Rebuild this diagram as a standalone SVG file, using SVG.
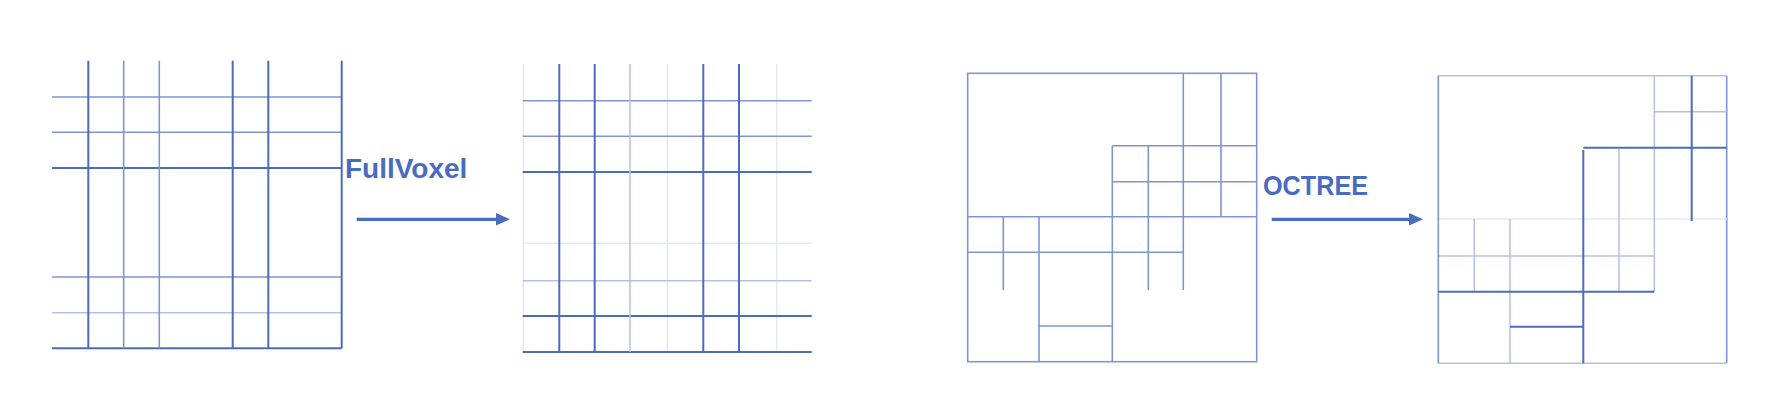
<svg xmlns="http://www.w3.org/2000/svg" width="1778" height="410" viewBox="0 0 1778 410">
<defs>
<style>
.d{stroke:#4c6bbd;stroke-width:2;fill:none}
.m{stroke:#7f95d2;stroke-width:1.6;fill:none}
.l{stroke:#b4c1e5;stroke-width:1.5;fill:none}
.f{stroke:#e4e9f5;stroke-width:1.5;fill:none}
.lbl{font-family:"Liberation Sans",Arial,sans-serif;font-weight:bold;font-size:28px;fill:#4a6cc0}
.arr{stroke:#4a6cc0;stroke-width:3.3;fill:none}
.head{fill:#4a6cc0}
</style>
</defs>
<rect width="1778" height="410" fill="#ffffff"/>

<g id="fullvoxel-before">
<line class="m" x1="52" y1="97" x2="341.7" y2="97"/>
<line class="m" x1="52" y1="132.3" x2="341.7" y2="132.3"/>
<line class="d" x1="52" y1="168" x2="341.7" y2="168"/>
<line class="m" x1="52" y1="277" x2="341.7" y2="277"/>
<line class="l" x1="52" y1="312.7" x2="341.7" y2="312.7"/>
<line class="d" x1="52" y1="348.3" x2="341.7" y2="348.3"/>
<line class="d" x1="88.3" y1="60.7" x2="88.3" y2="348.3"/>
<line class="m" x1="123.7" y1="60.7" x2="123.7" y2="348.3"/>
<line class="m" x1="159.3" y1="60.7" x2="159.3" y2="348.3"/>
<line class="d" x1="232.7" y1="60.7" x2="232.7" y2="348.3"/>
<line class="d" x1="268.3" y1="60.7" x2="268.3" y2="348.3"/>
<line class="d" x1="341.7" y1="60.7" x2="341.7" y2="348.3"/>
</g>

<g id="fullvoxel-after">
<line class="f" x1="523.3" y1="64" x2="523.3" y2="352"/>
<line class="f" x1="667.3" y1="64" x2="667.3" y2="352"/>
<line class="f" x1="776.7" y1="64" x2="776.7" y2="352"/>
<line class="f" x1="522.7" y1="243.3" x2="811.7" y2="243.3"/>
<line class="m" x1="522.7" y1="100.7" x2="811.7" y2="100.7"/>
<line class="m" x1="522.7" y1="136.3" x2="811.7" y2="136.3"/>
<line class="d" x1="522.7" y1="172" x2="811.7" y2="172"/>
<line class="l" x1="522.7" y1="280.7" x2="811.7" y2="280.7"/>
<line class="d" x1="522.7" y1="316" x2="811.7" y2="316"/>
<line class="d" x1="522.7" y1="352" x2="811.7" y2="352"/>
<line class="d" x1="559.3" y1="64" x2="559.3" y2="352"/>
<line class="d" x1="594.7" y1="64" x2="594.7" y2="352"/>
<line class="l" x1="630" y1="64" x2="630" y2="352"/>
<line class="d" x1="703.3" y1="64" x2="703.3" y2="352"/>
<line class="d" x1="739" y1="64" x2="739" y2="352"/>
</g>

<g id="octree-before">
<rect class="m" x="967.7" y="73.3" width="289" height="288.4"/>
<line class="m" x1="1183.3" y1="73.3" x2="1183.3" y2="290"/>
<line class="m" x1="1221" y1="73.3" x2="1221" y2="216.7"/>
<line class="m" x1="1112.3" y1="145.7" x2="1256.7" y2="145.7"/>
<line class="m" x1="1112.3" y1="181.7" x2="1256.7" y2="181.7"/>
<line class="m" x1="967.7" y1="216.7" x2="1256.7" y2="216.7"/>
<line class="m" x1="1112.3" y1="145.7" x2="1112.3" y2="361.7"/>
<line class="m" x1="1148.3" y1="145.7" x2="1148.3" y2="290"/>
<line class="m" x1="967.7" y1="252.3" x2="1183.3" y2="252.3"/>
<line class="m" x1="1003.3" y1="216.7" x2="1003.3" y2="290"/>
<line class="m" x1="1039" y1="216.7" x2="1039" y2="361.7"/>
<line class="m" x1="1039" y1="326" x2="1112.3" y2="326"/>
</g>

<g id="octree-after">
<line class="l" x1="1438.3" y1="75.7" x2="1726.7" y2="75.7"/>
<line class="l" x1="1438.3" y1="363.3" x2="1726.7" y2="363.3"/>
<line class="m" x1="1726.7" y1="75.7" x2="1726.7" y2="363.3"/>
<line class="f" x1="1438.3" y1="219" x2="1726.7" y2="219"/>
<line class="l" x1="1654.3" y1="111.7" x2="1726.7" y2="111.7"/>
<line class="l" x1="1654.3" y1="75.7" x2="1654.3" y2="291.7"/>
<line class="l" x1="1438.3" y1="256" x2="1654.3" y2="256"/>
<line class="l" x1="1619" y1="149" x2="1619" y2="291.7"/>
<line class="l" x1="1474.3" y1="219" x2="1474.3" y2="291.7"/>
<line class="l" x1="1510" y1="219" x2="1510" y2="363.3"/>
<line class="m" x1="1438.3" y1="75.7" x2="1438.3" y2="363.3"/>
<line class="d" x1="1691.7" y1="75.7" x2="1691.7" y2="221"/>
<line class="d" x1="1583.3" y1="147.7" x2="1726.7" y2="147.7"/>
<line class="d" x1="1583.3" y1="150" x2="1583.3" y2="363.3"/>
<line class="d" x1="1438.3" y1="291.7" x2="1654.3" y2="291.7"/>
<line class="d" x1="1510" y1="326.7" x2="1583.3" y2="326.7"/>
</g>

<g id="connectors">
<g id="arrow-fullvoxel">
<line class="arr" x1="356.7" y1="219.3" x2="498" y2="219.3"/>
<polygon class="head" points="496,213 510,219.3 496,225.6"/>
<text class="lbl" x="345" y="178.3">FullVoxel</text>
</g>
<g id="arrow-octree">
<line class="arr" x1="1271.7" y1="219.3" x2="1411" y2="219.3"/>
<polygon class="head" points="1409,213 1423,219.3 1409,225.6"/>
<text class="lbl" x="1263" y="195" textLength="105" lengthAdjust="spacingAndGlyphs">OCTREE</text>
</g>
</g>
</svg>
